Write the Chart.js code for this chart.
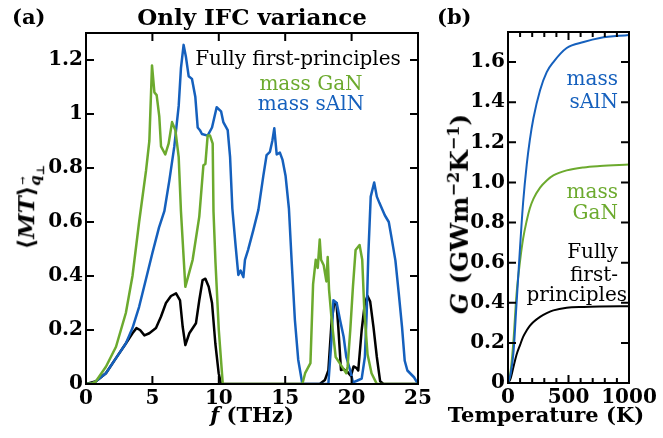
<!DOCTYPE html>
<html>
<head>
<meta charset="utf-8">
<script src="https://cdn.jsdelivr.net/npm/chart.js@4"></script>
<style>
  body { margin: 0; background: #fff; }
  #wrap { position: relative; width: 663px; height: 438px; background: #fff; overflow: hidden; }
  canvas { position: absolute; top: 0; }
  .lbl { position: absolute; font-family: 'DejaVu Serif', serif; line-height: 1; white-space: nowrap; color: #000; }
  .b { font-weight: bold; }
  .rot { transform: translate(-50%, -50%) rotate(-90deg); }
</style>
</head>
<body>
<div id="wrap">
  <canvas id="cA" width="440" height="438" style="left:0"></canvas>
  <canvas id="cB" width="223" height="438" style="left:440px"></canvas>

  <div class="lbl b" style="left:12px;top:6px;font-size:21px">(a)</div>
  <div class="lbl b" style="left:437px;top:6px;font-size:21px">(b)</div>
  <div class="lbl b" style="left:86px;width:332px;top:5px;font-size:23px;text-align:center">Only IFC variance</div>

  <div class="lbl b rot" style="left:30px;top:207px;font-size:23px">&#x27E8;<i>MT</i>&#x27E9;<sub style="font-size:15px"><i style="position:relative">q<span style="position:absolute;left:1px;top:-8px;font-size:10px;font-style:normal">&#x2192;</span></i><sub style="font-size:11px">&#x22A5;</sub></sub></div>
  <div class="lbl b rot" style="left:459px;top:214px;font-size:25px"><i>G</i> (GWm<sup style="font-size:16px">&#x2212;2</sup>K<sup style="font-size:16px">&#x2212;1</sup>)</div>

  <div class="lbl b" style="left:86px;width:332px;top:404px;font-size:21px;text-align:center"><i>f</i> (THz)</div>
  <div class="lbl b" style="left:437px;width:218px;top:404px;font-size:21px;text-align:center">Temperature (K)</div>

  <div class="lbl" style="left:150px;width:296px;top:48px;font-size:20px;text-align:center">Fully first-principles</div>
  <div class="lbl" style="left:211px;width:200px;top:73px;font-size:20px;text-align:center;color:#6caa2e">mass GaN</div>
  <div class="lbl" style="left:211px;width:200px;top:93px;font-size:20px;text-align:center;color:#1560bd">mass sAlN</div>

  <div class="lbl" style="right:45px;top:68px;font-size:20px;text-align:right;color:#1560bd">mass</div>
  <div class="lbl" style="right:45px;top:91px;font-size:20px;text-align:right;color:#1560bd">sAlN</div>
  <div class="lbl" style="right:45px;top:181px;font-size:20px;text-align:right;color:#6caa2e">mass</div>
  <div class="lbl" style="right:45px;top:202px;font-size:20px;text-align:right;color:#6caa2e">GaN</div>
  <div class="lbl" style="right:45px;top:241px;font-size:20px;text-align:right">Fully</div>
  <div class="lbl" style="right:45px;top:264px;font-size:20px;text-align:right">first-</div>
  <div class="lbl" style="right:36px;top:284px;font-size:20px;text-align:right">principles</div>
</div>
<script>
// panel (a): modal transmission vs frequency
const fullyF  = [0, 0.75, 1.5, 2.26, 3.0, 3.5, 3.8, 4.07, 4.4, 4.77, 5.27, 5.65, 6.02, 6.4, 6.78, 7.08, 7.28, 7.48, 7.78, 8.28, 8.53, 8.78, 8.99, 9.24, 9.49, 9.74, 9.99, 10.17,
                 17.6, 17.99, 18.25, 18.5, 18.7, 18.86, 19.0, 19.2, 19.4, 19.7, 19.95, 20.15, 20.35, 20.5, 20.76, 21.0, 21.2, 21.4, 21.65, 21.9, 22.15, 22.4, 25];
const fullyMT = [0, 0.01, 0.04, 0.096, 0.15, 0.188, 0.207, 0.2, 0.18, 0.188, 0.207, 0.25, 0.3, 0.326, 0.336, 0.31, 0.212, 0.144, 0.188, 0.225, 0.31, 0.385, 0.39, 0.36, 0.3, 0.15, 0.04, 0,
                 0, 0.015, 0.05, 0.237, 0.3, 0.3, 0.21, 0.052, 0.055, 0.044, 0.03, 0.065, 0.06, 0.05, 0.2, 0.3, 0.326, 0.305, 0.21, 0.1, 0.01, 0, 0];

const ganF  = [0, 0.5, 0.75, 1.5, 2.26, 3.0, 3.5, 4.0, 4.52, 4.77, 4.97, 5.15, 5.32, 5.52, 5.65, 5.97, 6.22, 6.48, 6.73, 6.98, 7.15, 7.48, 8.03, 8.53, 8.84, 8.99, 9.16, 9.34, 9.54, 9.6, 9.75, 10.0, 10.3,
               16.29, 16.5, 16.9, 17.1, 17.3, 17.45, 17.6, 17.7, 17.9, 18.1, 18.2, 18.3, 18.5, 18.8, 19.2, 19.6, 19.7, 19.9, 20.1, 20.3, 20.6, 20.8, 20.96, 21.2, 21.5, 21.9, 25];
const ganMT = [0, 0.003, 0.01, 0.064, 0.138, 0.263, 0.4, 0.6, 0.79, 0.9, 1.18, 1.08, 1.07, 0.99, 0.88, 0.85, 0.89, 0.97, 0.94, 0.84, 0.64, 0.36, 0.46, 0.62, 0.81, 0.815, 0.92, 0.92, 0.89, 0.64, 0.45, 0.2, 0,
               0, 0.04, 0.077, 0.37, 0.46, 0.43, 0.535, 0.46, 0.44, 0.38, 0.47, 0.35, 0.237, 0.1, 0.07, 0.04, 0.065, 0.2, 0.36, 0.496, 0.515, 0.46, 0.27, 0.11, 0.04, 0, 0];

const salnF  = [0, 0.5, 0.75, 1.5, 2.26, 3.0, 3.5, 4.0, 4.5, 5.0, 5.5, 5.9, 6.28, 6.65, 6.98, 7.15, 7.35, 7.53, 7.73, 7.98, 8.23, 8.41, 8.58, 8.73, 9.16, 9.49, 9.84, 10.17, 10.34, 10.67, 10.85, 11.02,
                11.27, 11.47, 11.64, 11.85, 11.97, 12.2, 12.6, 12.98, 13.35, 13.6, 13.85, 14.03, 14.18, 14.36, 14.6, 14.8, 15.03, 15.28, 15.48, 15.73, 15.98, 16.29,
                18.25, 18.5, 18.63, 18.88, 19.13, 19.4, 19.6, 19.9, 20.1, 20.4, 20.76, 21.0, 21.14, 21.26, 21.44, 21.7, 21.9, 22.1, 22.5, 22.8, 23.0, 23.3, 23.55, 23.8, 24.0, 24.2, 24.7, 25];
const salnMT = [0, 0.003, 0.01, 0.04, 0.096, 0.15, 0.207, 0.286, 0.385, 0.485, 0.58, 0.64, 0.755, 0.88, 1.03, 1.17, 1.256, 1.21, 1.14, 1.13, 1.064, 0.95, 0.94, 0.926, 0.92, 0.95, 1.025, 1.01, 0.97, 0.94, 0.84, 0.65,
                0.51, 0.404, 0.42, 0.396, 0.46, 0.496, 0.57, 0.645, 0.77, 0.848, 0.86, 0.9, 0.947, 0.85, 0.857, 0.83, 0.77, 0.65, 0.46, 0.237, 0.09, 0,
                0, 0.175, 0.31, 0.3, 0.237, 0.175, 0.1, 0.05, 0.006, 0.012, 0.02, 0.1, 0.27, 0.48, 0.694, 0.746, 0.694, 0.67, 0.625, 0.6, 0.544, 0.457, 0.337, 0.21, 0.086, 0.05, 0.025, 0];

// panel (b): conductance vs temperature
const tempK  = [0, 20, 45, 70, 100, 125, 155, 180, 210, 265, 320, 375, 485, 625, 760, 1000];
const gSaln  = [0, 0.04, 0.15, 0.39, 0.68, 0.9, 1.09, 1.21, 1.32, 1.46, 1.55, 1.6, 1.67, 1.7, 1.72, 1.735];
const gGan   = [0, 0.05, 0.21, 0.44, 0.61, 0.72, 0.81, 0.87, 0.918, 0.974, 1.01, 1.035, 1.06, 1.075, 1.082, 1.09];
const gFully = [0, 0.02, 0.08, 0.14, 0.19, 0.23, 0.263, 0.285, 0.304, 0.33, 0.348, 0.362, 0.375, 0.379, 0.381, 0.383];

const xTicksA = [0, 5, 10, 15, 20, 25];
const yTicksA = [0, 0.2, 0.4, 0.6, 0.8, 1, 1.2];
const xTicksB = [0, 100, 200, 300, 400, 500, 600, 700, 800, 900, 1000];
const xLabelsB = [0, 500, 1000];
const yTicksB = [0, 0.2, 0.4, 0.6, 0.8, 1.0, 1.2, 1.4, 1.6];

const BLUE = '#1560bd', GREEN = '#6caa2e', BLACK = '#000000';
const tickFont = {family: 'DejaVu Serif', weight: 'bold', size: 20};

const pts = (xs, ys) => xs.map((x, i) => ({x: x, y: ys[i]}));

// box round the plot area with ticks pointing inward on all four sides
const frameTicks = {
    id: 'frameTicks',
    afterDatasetsDraw(chart) {
        const {ctx, chartArea: a, scales: {x, y}} = chart;
        ctx.save();
        ctx.strokeStyle = '#000';
        ctx.lineWidth = 2;
        ctx.beginPath();
        x.ticks.forEach(t => {
            const px = x.getPixelForValue(t.value);
            const len = t.label === '' ? 5 : 8;
            ctx.moveTo(px, a.bottom); ctx.lineTo(px, a.bottom - len);
            ctx.moveTo(px, a.top); ctx.lineTo(px, a.top + len);
        });
        y.ticks.forEach(t => {
            const py = y.getPixelForValue(t.value);
            ctx.moveTo(a.left, py); ctx.lineTo(a.left + 8, py);
            ctx.moveTo(a.right, py); ctx.lineTo(a.right - 8, py);
        });
        ctx.stroke();
        ctx.strokeRect(a.left, a.top, a.right - a.left, a.bottom - a.top);
        ctx.restore();
    }
};

const baseOpts = (xmin, xmax, ymin, ymax, xt, yt, xcb, ycb, yw, xh, pad) => ({
    responsive: false,
    animation: false,
    devicePixelRatio: 1,
    layout: {padding: pad},
    plugins: {legend: {display: false}, tooltip: {enabled: false}},
    elements: {point: {radius: 0}},
    scales: {
        x: {
            type: 'linear', min: xmin, max: xmax,
            grid: {display: false, drawTicks: false},
            border: {display: false},
            afterBuildTicks: s => { s.ticks = xt.map(v => ({value: v})); },
            afterFit: s => { s.height = xh; },
            ticks: {font: tickFont, color: '#000', padding: 3, autoSkip: false, maxRotation: 0, callback: xcb}
        },
        y: {
            min: ymin, max: ymax,
            grid: {display: false, drawTicks: false},
            border: {display: false},
            afterBuildTicks: s => { s.ticks = yt.map(v => ({value: v})); },
            afterFit: s => { s.width = yw; },
            ticks: {font: tickFont, color: '#000', padding: 3, autoSkip: false, callback: ycb}
        }
    }
});

const line = (data, color, w) => ({
    data: data, borderColor: color, backgroundColor: color, borderWidth: w,
    borderJoinStyle: 'round', fill: false, pointRadius: 0
});

new Chart(document.getElementById('cA'), {
    type: 'line',
    data: {
        datasets: [
            line(pts(ganF, ganMT), GREEN, 2.5),
            line(pts(salnF, salnMT), BLUE, 2.5),
            line(pts(fullyF, fullyMT), BLACK, 2.5)
        ]
    },
    options: baseOpts(0, 25, 0, 1.3, xTicksA, yTicksA,
        v => String(v),
        v => String(v),
        86, 54, {left: 0, right: 22, top: 33, bottom: 0}),
    plugins: [frameTicks]
});

new Chart(document.getElementById('cB'), {
    type: 'line',
    data: {
        datasets: [
            Object.assign(line(pts(tempK, gSaln), BLUE, 2), {cubicInterpolationMode: 'monotone'}),
            Object.assign(line(pts(tempK, gGan), GREEN, 2), {cubicInterpolationMode: 'monotone'}),
            Object.assign(line(pts(tempK, gFully), BLACK, 2), {cubicInterpolationMode: 'monotone'})
        ]
    },
    options: baseOpts(0, 1000, 0, 1.75, xTicksB, yTicksB,
        v => xLabelsB.includes(v) ? String(v) : '',
        v => v === 0 ? '0' : v.toFixed(1),
        68, 55, {left: 0, right: 34, top: 32, bottom: 0}),
    plugins: [frameTicks]
});
</script>
</body>
</html>
